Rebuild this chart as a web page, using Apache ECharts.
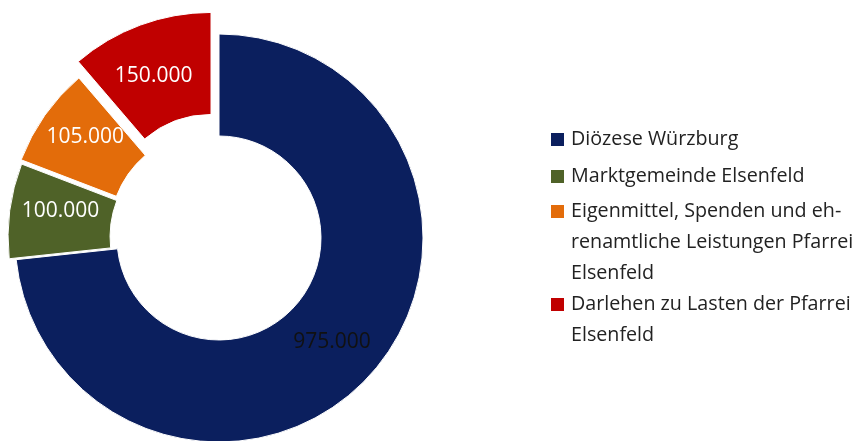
<!DOCTYPE html>
<html><head><meta charset="utf-8">
<script src="https://cdn.jsdelivr.net/npm/echarts@6/dist/echarts.min.js"></script>
<style>html,body{margin:0;padding:0;background:#fff}#c{width:868px;height:441px}</style>
</head><body><div id="c"></div>
<script>
// ---- data ----
const categories = ['Diözese Würzburg', 'Marktgemeinde Elsenfeld', 'Eigenmittel, Spenden und ehrenamtliche Leistungen Pfarrei Elsenfeld', 'Darlehen zu Lasten der Pfarrei Elsenfeld'];
const legendLabels = ['Diözese Würzburg', 'Marktgemeinde Elsenfeld', 'Eigenmittel, Spenden und eh-\nrenamtliche Leistungen Pfarrei\nElsenfeld', 'Darlehen zu Lasten der Pfarrei\nElsenfeld'];
const values = [975000, 100000, 105000, 150000];

// ---- style ----
const colors = ['#0b1f5e', '#4f6228', '#e36c0a', '#c00000'];
const labelColors = ['#111111', '#ffffff', '#ffffff', '#ffffff'];
const offsets = [0, 7, 9, 23];
const labelDx = [-3, -2, 2, 9];
const legendTops = [124, 161, 196, 289];
const LH = 31;
const SQ = 13;

function fmt(v) { return String(v).replace(/\B(?=(\d{3})+(?!\d))/g, '.'); }

const total = values.reduce((a, b) => a + b, 0);
let cum = 0;
const hidden = {
  itemStyle: { color: 'rgba(0,0,0,0)', borderWidth: 0 },
  label: { show: false }, labelLine: { show: false },
  emphasis: { disabled: true }
};
const series = values.map((v, i) => {
  const before = cum; cum += v; const after = total - cum;
  const data = [];
  if (before > 0) data.push(Object.assign({ name: '_before', value: before }, hidden));
  data.push({ name: categories[i], value: v, selected: offsets[i] > 0 });
  if (after > 0) data.push(Object.assign({ name: '_after', value: after }, hidden));
  const st = { color: colors[i], borderColor: '#ffffff', borderWidth: 1 };
  const lb = { show: true, position: 'inside', formatter: p => fmt(p.value), color: labelColors[i], fontFamily: 'Open Sans', fontSize: 21 };
  return {
    type: 'pie', center: [219, 238], radius: [102, 204], startAngle: 90, clockwise: true,
    selectedMode: 'multiple', selectedOffset: offsets[i],
    avoidLabelOverlap: false, animation: false, silent: true,
    itemStyle: st, label: lb, labelLine: { show: false },
    labelLayout: { dx: labelDx[i] },
    emphasis: { disabled: true, scale: false },
    select: { itemStyle: st, label: lb },
    data
  };
});

const legends = categories.map((name, i) => {
  const n = legendLabels[i].split('\n').length;
  const h = SQ + (n - 1) * LH;
  const icon = n > 1 ? `path://M0,0H${SQ}V${SQ}H0Z M0,${h}L0,${h}` : 'rect';
  return {
    orient: 'vertical', left: 551, top: legendTops[i], padding: 0,
    itemWidth: SQ, itemHeight: h, icon: icon, selectedMode: false,
    itemStyle: { borderWidth: 0, color: colors[i] },
    data: [name],
    formatter: nm => legendLabels[categories.indexOf(nm)],
    textStyle: { fontFamily: 'Open Sans', fontSize: 19.7, color: '#222222', lineHeight: LH, padding: [0, 0, 0, 2] }
  };
});

const chart = echarts.init(document.getElementById('c'), null, { renderer: 'canvas' });
chart.setOption({
  backgroundColor: '#ffffff',
  animation: false,
  legend: legends,
  series: series
});
</script>
</body></html>
